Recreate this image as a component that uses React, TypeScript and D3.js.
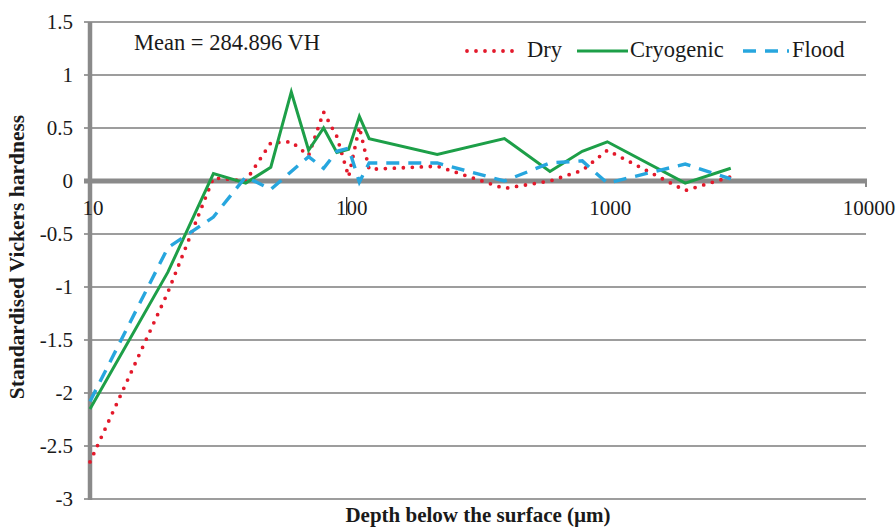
import * as d3 from "d3";

const depths = [10, 20, 30, 40, 50, 60, 70, 80, 90, 100, 110, 120, 220, 400, 600, 800, 1000, 2000, 3000];

const dry = [-2.65, -1.05, 0.03, 0.0, 0.36, 0.37, 0.24, 0.65, 0.42, 0.04, 0.51, 0.11, 0.14, -0.07, 0.0, 0.1, 0.29, -0.09, 0.04];
const cryogenic = [-2.15, -0.86, 0.07, -0.02, 0.13, 0.84, 0.29, 0.5, 0.27, 0.3, 0.61, 0.4, 0.25, 0.4, 0.09, 0.28, 0.37, -0.02, 0.12];
const flood = [-2.08, -0.63, -0.34, 0.04, -0.08, 0.09, 0.23, 0.12, 0.28, 0.31, -0.01, 0.17, 0.17, 0.0, 0.17, 0.19, -0.02, 0.16, 0.02];

const xTicks = [10, 100, 1000, 10000];
const yTicks = [1.5, 1, 0.5, 0, -0.5, -1, -1.5, -2, -2.5, -3];

const meanLabel = "Mean = 284.896 VH";

const SERIES = [
  { name: "Dry", values: dry, color: "#e3192b", dash: "0 9", cap: "round", width: 3.8 },
  { name: "Cryogenic", values: cryogenic, color: "#1d9f48", dash: null, cap: "butt", width: 3 },
  { name: "Flood", values: flood, color: "#27a6de", dash: "13 9", cap: "butt", width: 3.4 },
];

const LEGEND_POS = [
  { x1: 467, x2: 516, tx: 527 },
  { x1: 577, x2: 628, tx: 630 },
  { x1: 743, x2: 789, tx: 792 },
];

const W = 896;
const H = 529;
const FONT = "'Liberation Serif', 'Times New Roman', serif";

export default function App() {
  const x = d3.scaleLog().domain([10, 10000]).range([90, 866]);
  const y = d3.scaleLinear().domain([-3, 1.5]).range([499, 22]);

  const line = d3
    .line<[number, number]>()
    .x((d) => x(d[0]))
    .y((d) => y(d[1]));

  return (
    <svg
      width={W}
      height={H}
      style={{ position: "absolute", left: 0, top: 0, background: "#fff", fontFamily: FONT }}
    >
      {/* grid */}
      {yTicks
        .filter((t) => t !== 0)
        .map((t) => (
          <line key={t} x1={84} x2={866} y1={y(t)} y2={y(t)} stroke="#9d9d9d" strokeWidth={2} />
        ))}
      {/* y axis */}
      <line x1={90} x2={90} y1={y(1.5)} y2={y(-3) + 1} stroke="#8a8a8a" strokeWidth={4.5} />
      {/* x axis at zero */}
      <line x1={84} x2={867} y1={y(0)} y2={y(0)} stroke="#8a8a8a" strokeWidth={5} />
      <line x1={866} x2={866} y1={y(0)} y2={y(0) + 6} stroke="#8a8a8a" strokeWidth={2} />
      <line x1={x(100) - 2} x2={x(100) - 2} y1={y(0) + 16} y2={y(0) + 34} stroke="#333" strokeWidth={1.3} />

      {/* y tick labels */}
      {yTicks.map((t) => (
        <text key={t} x={73} y={y(t)} dy="0.35em" textAnchor="end" fontSize={21} fill="#1a1a1a">
          {t}
        </text>
      ))}
      {/* x tick labels */}
      {xTicks.map((t) => (
        <text key={t} x={x(t) + 3} y={y(0) + 34} textAnchor="middle" fontSize={21} fill="#1a1a1a">
          {t}
        </text>
      ))}

      {/* series */}
      {SERIES.map((s) => (
        <path
          key={s.name}
          d={line(depths.map((d, i) => [d, s.values[i]] as [number, number])) ?? ""}
          fill="none"
          stroke={s.color}
          strokeWidth={s.width}
          strokeDasharray={s.dash ?? undefined}
          strokeLinecap={s.cap as "round" | "butt"}
          strokeLinejoin="miter"
        />
      ))}

      {/* legend */}
      {LEGEND_POS.map((p, i) => {
        const s = SERIES[i];
        return (
          <g key={s.name}>
            <line
              x1={p.x1}
              x2={p.x2}
              y1={51}
              y2={51}
              stroke={s.color}
              strokeWidth={s.width}
              strokeDasharray={s.dash ?? undefined}
              strokeLinecap={s.cap as "round" | "butt"}
            />
            <text x={p.tx} y={57} fontSize={22.5} fill="#1a1a1a">
              {s.name}
            </text>
          </g>
        );
      })}

      <text x={134} y={50} fontSize={22.5} fill="#1a1a1a">
        {meanLabel}
      </text>

      {/* axis titles */}
      <text
        transform={`translate(24,${257}) rotate(-90)`}
        textAnchor="middle"
        fontSize={21.5}
        fontWeight="bold"
        fill="#1a1a1a"
      >
        Standardised Vickers hardness
      </text>
      <text x={478} y={522} textAnchor="middle" fontSize={21} fontWeight="bold" fill="#1a1a1a">
        Depth below the surface (µm)
      </text>
    </svg>
  );
}
